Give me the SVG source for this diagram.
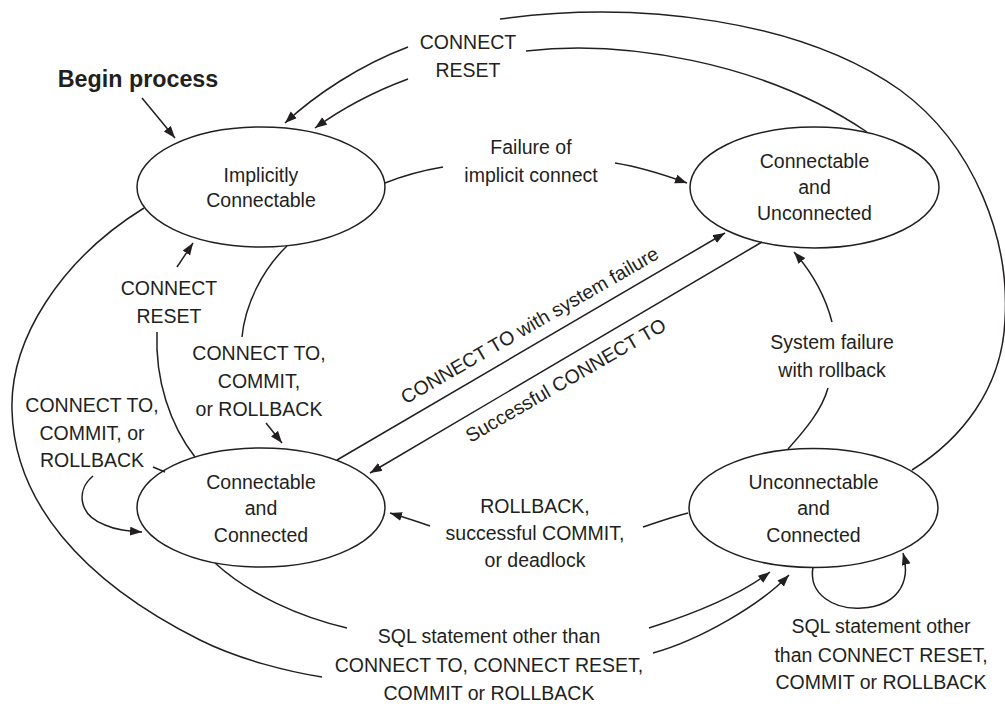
<svg xmlns="http://www.w3.org/2000/svg" width="1005" height="704" viewBox="0 0 1005 704">
<style>
  .n ellipse { fill: none; stroke: #231f20; stroke-width: 1.5; }
  text { font-family: "Liberation Sans", Arial, Helvetica, sans-serif; font-size: 19.5px; fill: #231f20; text-anchor: middle; }
  .b { font-weight: bold; font-size: 23.3px; }
  .c path { fill: none; stroke: #231f20; stroke-width: 1.5; }
  .c path.a { marker-end: url(#ah); }
</style>
<defs>
  <marker id="ah" markerUnits="userSpaceOnUse" markerWidth="13" markerHeight="10" refX="12" refY="4.5" orient="auto">
    <path d="M0,0 L12,4.5 L0,9 z" fill="#231f20"/>
  </marker>
</defs>
<rect width="1005" height="704" fill="#ffffff"/>

<g id="node-implicitly-connectable" class="n">
  <ellipse cx="261" cy="187" rx="124" ry="60"/>
  <text x="261" y="182">Implicitly</text>
  <text x="261" y="207">Connectable</text>
</g>
<g id="node-connectable-unconnected" class="n">
  <ellipse cx="814.5" cy="187.5" rx="124.5" ry="60.5"/>
  <text x="814.5" y="168">Connectable</text>
  <text x="814.5" y="194">and</text>
  <text x="814.5" y="220">Unconnected</text>
</g>
<g id="node-connectable-connected" class="n">
  <ellipse cx="261" cy="507.5" rx="124" ry="59.5"/>
  <text x="261" y="489">Connectable</text>
  <text x="261" y="515">and</text>
  <text x="261" y="542">Connected</text>
</g>
<g id="node-unconnectable-connected" class="n">
  <ellipse cx="813.5" cy="508" rx="124.5" ry="59.5"/>
  <text x="813.5" y="489">Unconnectable</text>
  <text x="813.5" y="515">and</text>
  <text x="813.5" y="542">Connected</text>
</g>

<g id="connectors" class="c">
  <!-- Begin process -->
  <path class="a" d="M142 98 L175 138"/>
  <!-- CONNECT RESET from top -->
  <path d="M867 132 C 760 60, 620 40, 526 51"/>
  <path class="a" d="M408 47 C 360 65, 315 95, 285 123"/>
  <path d="M912 470 C 960 440, 1002 390, 1005 320 C 1010 240, 975 145, 900 90 C 800 20, 640 0, 500 19"/>
  <path class="a" d="M408 79 C 370 93, 340 110, 315 128"/>
  <!-- Failure of implicit connect -->
  <path d="M385 183 C 405 175, 425 170, 443 167"/>
  <path class="a" d="M615 163 C 640 167, 665 175, 687 183"/>
  <!-- CONNECT RESET (left) -->
  <path d="M195 457 C 170 425, 155 380, 157 332"/>
  <path class="a" d="M177 267 L193 243"/>
  <!-- CONNECT TO, COMMIT, or ROLLBACK (middle) -->
  <path d="M287 246 C 262 270, 245 305, 242 337"/>
  <path class="a" d="M266 423 L282 443"/>
  <!-- self loop on Connectable and Connected -->
  <path d="M165 472 L153 467"/>
  <path class="a" d="M93 476 C 76 490, 78 515, 105 525 C 116 530, 128 531, 142 532"/>
  <!-- diagonal lines -->
  <path class="a" d="M337 460 L725 233"/>
  <path class="a" d="M762 242 L370 473"/>
  <!-- System failure with rollback -->
  <path d="M788 449 C 805 430, 822 410, 828 388"/>
  <path class="a" d="M832 322 C 825 295, 810 270, 794 252"/>
  <!-- ROLLBACK, successful COMMIT, or deadlock -->
  <path d="M688 513 C 672 517, 658 522, 643 527"/>
  <path class="a" d="M430 526 C 416 521, 403 517, 390 513"/>
  <!-- SQL statement arcs -->
  <path d="M215 563 C 250 595, 300 617, 347 628"/>
  <path class="a" d="M649 628 C 690 615, 740 595, 770 572"/>
  <path d="M144 208 C 60 260, 10 340, 12 410 C 14 500, 80 580, 200 640 C 240 660, 290 672, 322 677"/>
  <path class="a" d="M653 653 C 700 640, 760 605, 789 575"/>
  <!-- self loop on Unconnectable and Connected -->
  <path class="a" d="M813 567 C 808 595, 835 610, 862 608 C 895 606, 912 585, 903 553"/>
</g>

<g id="labels">
  <text class="b" x="138" y="87">Begin process</text>
  <text x="468" y="49">CONNECT</text>
  <text x="468" y="77">RESET</text>
  <text x="531" y="154">Failure of</text>
  <text x="531" y="182">implicit connect</text>
  <text x="169" y="295">CONNECT</text>
  <text x="169" y="323">RESET</text>
  <text x="259" y="360">CONNECT TO,</text>
  <text x="259" y="388">COMMIT,</text>
  <text x="259" y="416">or ROLLBACK</text>
  <text x="92" y="412">CONNECT TO,</text>
  <text x="92" y="440">COMMIT, or</text>
  <text x="92" y="467">ROLLBACK</text>
  <text x="533" y="331" transform="rotate(-30 533 331)">CONNECT TO with system failure</text>
  <text x="569" y="386" transform="rotate(-30 569 386)">Successful CONNECT TO</text>
  <text x="832" y="349">System failure</text>
  <text x="832" y="377">with rollback</text>
  <text x="535" y="513">ROLLBACK,</text>
  <text x="535" y="540">successful COMMIT,</text>
  <text x="535" y="567">or deadlock</text>
  <text x="489" y="643">SQL statement other than</text>
  <text x="489" y="672">CONNECT TO, CONNECT RESET,</text>
  <text x="489" y="700">COMMIT or ROLLBACK</text>
  <text x="881" y="633">SQL statement other</text>
  <text x="881" y="662">than CONNECT RESET,</text>
  <text x="881" y="689">COMMIT or ROLLBACK</text>
</g>
</svg>
